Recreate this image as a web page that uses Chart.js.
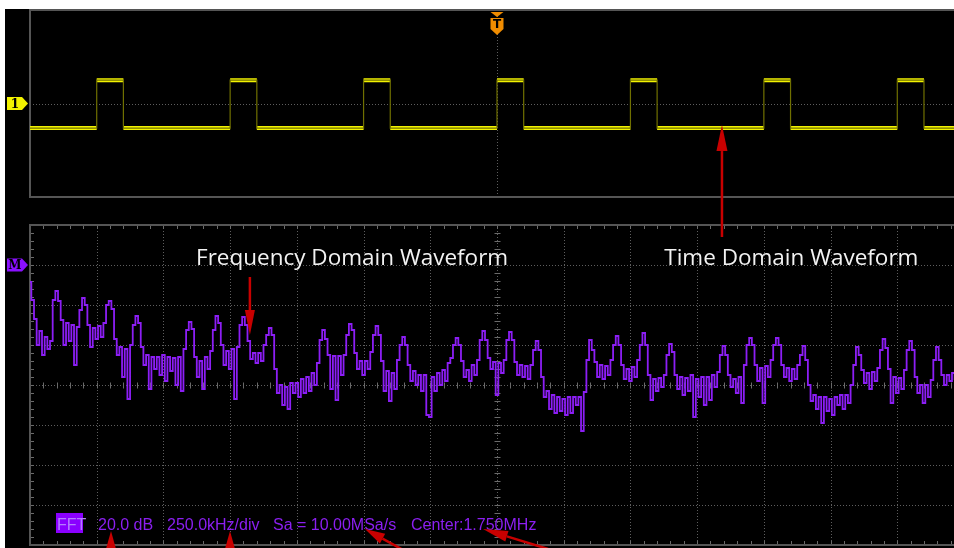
<!DOCTYPE html>
<html>
<head>
<meta charset="utf-8">
<title>FFT</title>
<script src="https://cdn.jsdelivr.net/npm/chart.js@4.4.1/dist/chart.umd.min.js"></script>
<style>
  html, body { margin: 0; padding: 0; background: #fff; overflow: hidden; }
  #wrap { position: relative; width: 954px; height: 548px; overflow: hidden; }
  canvas { position: absolute; left: 0; top: 0; }
</style>
</head>
<body>
<div id="wrap">
  <canvas id="timeChart" width="970" height="548"></canvas>
  <canvas id="fftChart" width="970" height="548"></canvas>
</div>
<script>
// channel 1 square wave, times in us
const riseTimesUs = [-30, -20, -10, 0, 10, 20, 30]
const fallTimesUs = [-28, -18, -8, 2, 12, 22, 32]
const highLevel = 1.0
const lowLevel = -1.05

// FFT magnitude, one bin every 10 kHz from DC (dB), one row per 100 kHz
const fftStepKHz = 10
const fftDb = [
  -8.5, -17.5, -27, -40, -33, -45, -36, -42, -38, -17.5,
  -13, -18, -27.5, -40, -29, -38, -30, -50, -31, -22.5,
  -16.5, -20, -30, -41, -31.5, -37, -30.5, -36, -29, -20,
  -18, -22, -37, -45, -41, -56, -42, -67, -40, -30,
  -25.5, -29, -41, -50, -45, -62, -46, -52, -46, -55,
  -45, -58, -46, -53, -46.5, -60, -46, -63, -42, -32.5,
  -28.5, -32, -46, -56, -48, -62, -46, -52, -43, -32.5,
  -25.5, -29, -40, -50, -43, -52, -42, -67, -41, -30,
  -26, -30, -38, -47, -44, -49, -44, -48, -40, -35,
  -31.5, -35, -52, -64, -60, -70, -61, -72, -59, -64,
  -59, -66, -57, -64, -56, -63, -54, -60, -49, -37.5,
  -32.5, -37, -45, -62, -45.5, -67.5, -45.5, -55, -45, -35,
  -29.5, -32.5, -44, -52, -48, -55, -48, -52, -43.5, -35,
  -30.5, -35, -48, -63, -53, -68, -54, -62, -47.5, -40,
  -36, -40, -50, -58, -53, -60, -55, -63, -55, -75,
  -76, -56, -63, -54, -60, -52.5, -58, -49, -46.5, -40,
  -36.5, -40, -48, -56, -52.5, -58, -50, -55, -47.5, -37.5,
  -33, -37.5, -46.5, -52, -48.5, -65, -49, -54, -47.5, -37.5,
  -33.5, -37.5, -48.5, -55, -50, -56, -50.5, -57, -50, -42.5,
  -38, -42.5, -56, -66, -63, -72, -65, -74, -66, -73,
  -67, -75, -66, -74, -66, -70, -66, -83, -63.5, -47.5,
  -37.5, -42.5, -48.5, -56, -50, -57, -50.5, -55, -47.5, -40,
  -35.5, -40, -50, -57, -52, -58, -51, -56, -47.5, -40,
  -34, -40, -55, -67.5, -57, -63, -56.5, -61, -55, -45,
  -39.5, -43.5, -55, -62, -56, -65, -56.5, -63, -55, -76,
  -57, -66, -56, -70, -56, -67.5, -55, -61, -53.5, -45,
  -40.5, -45, -55, -61, -57, -64, -56, -69, -50, -40,
  -36.5, -40, -50, -58, -51.5, -69, -50.5, -56, -47.5, -40,
  -36.5, -40, -50, -56, -51.5, -58, -52, -57, -50, -45,
  -40.5, -47.5, -60, -68, -65, -72, -66, -79, -66, -73,
  -67, -75, -66, -70, -65, -72, -65, -69, -60, -50,
  -41, -45, -52.5, -59, -54, -62, -53.5, -58, -51.5, -42.5,
  -37, -41.5, -52, -69, -56, -64, -56.5, -62, -52.5, -42.5,
  -38, -42.5, -56, -64, -60, -69, -60, -66, -57.5, -47.5,
  -41, -47.5, -55, -60, -55, -58, -54, -57, -54, -56
]
const fftFreqKHz = fftDb.map((v, i) => i * fftStepKHz)

// screen settings: 5 us/div, 250 kHz/div, 20 dB/div
const timeMinUs = -35, timeMaxUs = 35
const freqMinKHz = 0, freqMaxKHz = 3500, freqPerDiv = 250
const dbTop = 20, dbBottom = -140, dbPerDiv = 20

const fftReadout = ['20.0 dB', '250.0kHz/div', 'Sa = 10.00MSa/s', 'Center:1.750MHz']

const annotations = [
  { text: 'Frequency Domain Waveform', freq: 1207, db: 0 },
  { text: 'Time Domain Waveform', freq: 2853, db: 0 }
]

const GRID = '#5e5e5e'
const FRAME = '#555555'
const YELLOW = '#f2f200'
const VIOLET = '#8c1ef5'
const ARROW_RED = '#c80000'

// square wave points: thin edges + bright levels
const edgeTrace = [{ x: timeMinUs, y: lowLevel }]
const levelTrace = [{ x: timeMinUs, y: lowLevel }]
riseTimesUs.forEach((r, i) => {
  const f = fallTimesUs[i]
  edgeTrace.push({ x: r, y: lowLevel }, { x: r, y: highLevel }, { x: f, y: highLevel }, { x: f, y: lowLevel })
  levelTrace.push({ x: r, y: lowLevel }, { x: r, y: null }, { x: r, y: highLevel },
                  { x: f, y: highLevel }, { x: f, y: null }, { x: f, y: lowLevel })
})
edgeTrace.push({ x: timeMaxUs, y: lowLevel })
levelTrace.push({ x: timeMaxUs, y: lowLevel })

function line(ctx, x0, y0, x1, y1) {
  ctx.beginPath()
  ctx.moveTo(x0, y0)
  ctx.lineTo(x1, y1)
  ctx.stroke()
}

function arrow(ctx, x0, y0, x1, y1, headLen, headW) {
  const ang = Math.atan2(y1 - y0, x1 - x0)
  const bx = x1 - Math.cos(ang) * headLen
  const by = y1 - Math.sin(ang) * headLen
  ctx.save()
  ctx.strokeStyle = ARROW_RED
  ctx.fillStyle = ARROW_RED
  ctx.lineWidth = 2.5
  line(ctx, x0, y0, bx, by)
  ctx.beginPath()
  ctx.moveTo(x1, y1)
  ctx.lineTo(bx + Math.sin(ang) * headW / 2, by - Math.cos(ang) * headW / 2)
  ctx.lineTo(bx - Math.sin(ang) * headW / 2, by + Math.cos(ang) * headW / 2)
  ctx.closePath()
  ctx.fill()
  ctx.restore()
}

// channel / math tag on the left edge
function sideTag(ctx, y, color, label) {
  ctx.save()
  ctx.fillStyle = color
  ctx.beginPath()
  ctx.moveTo(7, y - 6.5)
  ctx.lineTo(22, y - 6.5)
  ctx.lineTo(28, y)
  ctx.lineTo(22, y + 6.5)
  ctx.lineTo(7, y + 6.5)
  ctx.closePath()
  ctx.fill()
  ctx.fillStyle = '#000'
  ctx.font = 'bold 12px "DejaVu Serif"'
  ctx.textAlign = 'center'
  ctx.textBaseline = 'middle'
  ctx.fillText(label, 15, y + 1)
  ctx.restore()
}

const timeFrame = {
  id: 'timeFrame',
  beforeDraw(chart) {
    const ctx = chart.ctx
    ctx.save()
    ctx.fillStyle = '#000'
    ctx.fillRect(5, 9, chart.width, chart.height)
    ctx.restore()
  },
  beforeDatasetsDraw(chart) {
    const { ctx, chartArea: a, scales: { x, y } } = chart
    ctx.save()
    ctx.strokeStyle = GRID
    ctx.lineWidth = 1
    ctx.setLineDash([1, 2])
    const cx = Math.round(x.getPixelForValue(0)) + 0.5
    const cy = Math.round(y.getPixelForValue(0)) + 0.5
    line(ctx, cx, a.top, cx, a.bottom)
    line(ctx, a.left, cy, a.right, cy)
    ctx.setLineDash([])
    ctx.strokeStyle = FRAME
    ctx.lineWidth = 2
    ctx.strokeRect(a.left, a.top, a.right - a.left, a.bottom - a.top)
    ctx.restore()
  },
  afterDraw(chart) {
    const { ctx, scales: { x, y } } = chart
    sideTag(ctx, y.getPixelForValue(0), YELLOW, '1')
    // trigger position tag
    const tx = x.getPixelForValue(0)
    ctx.save()
    ctx.fillStyle = '#f08c00'
    ctx.beginPath()
    ctx.moveTo(tx - 6.5, 12); ctx.lineTo(tx + 6.5, 12); ctx.lineTo(tx, 17)
    ctx.closePath(); ctx.fill()
    ctx.beginPath()
    ctx.moveTo(tx - 6.5, 18); ctx.lineTo(tx + 6.5, 18); ctx.lineTo(tx + 6.5, 29)
    ctx.lineTo(tx, 35); ctx.lineTo(tx - 6.5, 29)
    ctx.closePath(); ctx.fill()
    ctx.fillStyle = '#000'
    ctx.font = 'bold 12px "DejaVu Sans"'
    ctx.textAlign = 'center'
    ctx.textBaseline = 'middle'
    ctx.fillText('T', tx, 25)
    ctx.restore()
  }
}

const timeChart = new Chart(document.getElementById('timeChart'), {
  type: 'line',
  data: {
    datasets: [{
      data: edgeTrace,
      borderColor: '#707000',
      borderWidth: 1.2,
      pointRadius: 0
    }, {
      data: levelTrace,
      borderColor: YELLOW,
      borderWidth: 4,
      borderCapStyle: 'butt',
      spanGaps: false,
      pointRadius: 0
    }]
  },
  options: {
    responsive: false,
    animation: false,
    events: [],
    layout: { padding: { left: 30, top: 10, right: 6, bottom: 351 } },
    plugins: { legend: { display: false }, tooltip: { enabled: false } },
    scales: {
      x: { type: 'linear', min: timeMinUs, max: timeMaxUs, display: false },
      y: { min: -4, max: 4, display: false }
    }
  },
  plugins: [timeFrame]
})

const fftFrame = {
  id: 'fftFrame',
  beforeDatasetsDraw(chart) {
    const { ctx, chartArea: a, scales: { x, y } } = chart
    const px = v => Math.round(x.getPixelForValue(v)) + 0.5
    const py = v => Math.round(y.getPixelForValue(v)) + 0.5
    ctx.save()
    ctx.strokeStyle = GRID
    ctx.lineWidth = 1
    ctx.setLineDash([1, 2])
    for (let f = freqMinKHz + freqPerDiv; f < freqMaxKHz; f += freqPerDiv) line(ctx, px(f), a.top, px(f), a.bottom)
    for (let d = dbTop - dbPerDiv; d > dbBottom; d -= dbPerDiv) line(ctx, a.left, py(d), a.right, py(d))
    ctx.setLineDash([])

    // minor ticks, 5 per division
    ctx.strokeStyle = '#6a6a6a'
    const cf = px((freqMinKHz + freqMaxKHz) / 2)
    const cd = py((dbTop + dbBottom) / 2)
    for (let d = dbTop; d >= dbBottom; d -= dbPerDiv / 5) {
      line(ctx, a.left, py(d), a.left + 4, py(d))
      line(ctx, cf - 3, py(d), cf + 3, py(d))
    }
    for (let f = freqMinKHz; f <= freqMaxKHz; f += freqPerDiv / 5) {
      line(ctx, px(f), a.top, px(f), a.top + 4)
      line(ctx, px(f), a.bottom - 4, px(f), a.bottom)
      line(ctx, px(f), cd - 3, px(f), cd + 3)
    }
    ctx.strokeStyle = FRAME
    ctx.lineWidth = 2
    ctx.strokeRect(a.left, a.top, a.right - a.left, a.bottom - a.top)
    ctx.restore()
  },
  afterDraw(chart) {
    const { ctx, chartArea: a, scales: { x, y } } = chart
    sideTag(ctx, y.getPixelForValue(0), '#8a10ff', 'M')

    ctx.save()
    ctx.font = '22.5px "Open Sans"'
    ctx.fillStyle = '#f2f2f2'
    ctx.textAlign = 'center'
    ctx.textBaseline = 'alphabetic'
    annotations.forEach(n => ctx.fillText(n.text, x.getPixelForValue(n.freq), y.getPixelForValue(n.db)))

    // readout line along the bottom of the FFT window
    const base = a.bottom - 15
    ctx.textAlign = 'left'
    ctx.font = '16px "Liberation Sans"'
    ctx.fillStyle = '#8a00ff'
    ctx.fillRect(a.left + 26, base - 17, 27, 20)
    ctx.fillStyle = '#b47cff'
    ctx.fillText('FFT', a.left + 27, base)
    ctx.fillStyle = '#8b1ff0'
    const offs = [68, 137, 243, 381]
    fftReadout.forEach((t, i) => ctx.fillText(t, a.left + offs[i], base))
    ctx.restore()

    // pointers
    const tc = timeChart.scales
    arrow(ctx, tc.x.getPixelForValue(16.86), y.getPixelForValue(14),
          tc.x.getPixelForValue(16.86), tc.y.getPixelForValue(lowLevel) - 3, 26, 11)
    arrow(ctx, x.getPixelForValue(824), y.getPixelForValue(-6),
          x.getPixelForValue(824), y.getPixelForValue(-35), 25, 10)
    arrow(ctx, a.left + 81, a.bottom + 20, a.left + 81, base + 1, 18, 10)
    arrow(ctx, a.left + 200, a.bottom + 20, a.left + 200, base + 1, 18, 10)
    arrow(ctx, a.left + 375, a.bottom + 6, a.left + 335, base - 1, 20, 11)
    arrow(ctx, a.left + 518, a.bottom + 4, a.left + 453, base - 1, 25, 11)
  }
}

new Chart(document.getElementById('fftChart'), {
  type: 'line',
  data: {
    datasets: [{
      data: fftDb.map((v, i) => ({ x: fftFreqKHz[i], y: v })),
      borderColor: VIOLET,
      borderWidth: 1.8,
      stepped: 'middle',
      pointRadius: 0
    }]
  },
  options: {
    responsive: false,
    animation: false,
    events: [],
    layout: { padding: { left: 30, top: 225, right: 6, bottom: 3 } },
    plugins: { legend: { display: false }, tooltip: { enabled: false } },
    scales: {
      x: { type: 'linear', min: freqMinKHz, max: freqMaxKHz, display: false },
      y: { min: dbBottom, max: dbTop, display: false }
    }
  },
  plugins: [fftFrame]
})
</script>
</body>
</html>
